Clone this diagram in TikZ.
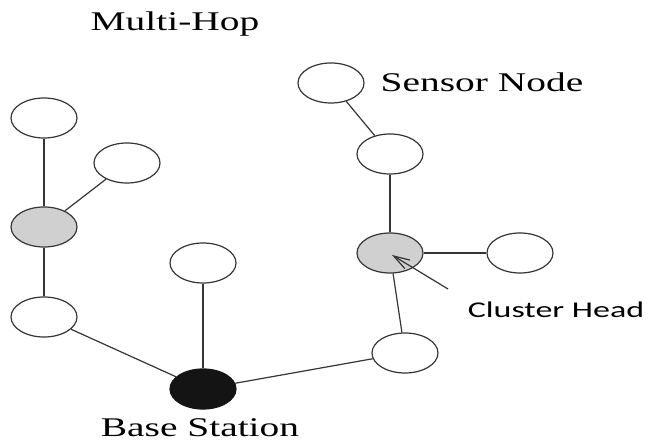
\documentclass[tikz,border=0pt]{standalone}
\usepackage{fontspec}
\setmainfont{Liberation Serif}
\newfontfamily\cali{Carlito}
\usetikzlibrary{shapes.geometric,arrows.meta}
\definecolor{edgec}{HTML}{353535}
\definecolor{chfill}{HTML}{D0D0D0}
\definecolor{bsfill}{HTML}{141414}
\tikzset{
  sensor/.style={ellipse,draw=edgec,line width=1.2pt,fill=white,minimum width=66pt,minimum height=40pt,inner sep=0pt},
  chead/.style={sensor,fill=chfill},
  base/.style={sensor,fill=bsfill,draw=bsfill},
  link/.style={draw=edgec,line width=1.2pt},
  serlabel/.style={font=\rmfamily\fontsize{27}{30}\selectfont,xscale=1.46,anchor=base,text=black},
  callabel/.style={font=\cali\fontsize{22.5}{26}\selectfont,xscale=1.51,anchor=base,text=black}
}
\begin{document}
\begin{tikzpicture}[x=1pt,y=-1pt]
\useasboundingbox (0,0) rectangle (649,441);
% nodes
\node[sensor] (a) at (44,118) {};
\node[sensor] (b) at (127,163) {};
\node[chead]  (c) at (44,227) {};
\node[sensor] (d) at (44,317) {};
\node[sensor] (e) at (203,263) {};
\node[base]   (bs) at (203,389) {};
\node[sensor] (f) at (331,83) {};
\node[sensor] (g) at (390,154) {};
\node[chead]  (h) at (390,253) {};
\node[sensor] (i) at (520,253) {};
\node[sensor] (j) at (405,353) {};
% links
\draw[link] (a) -- (c);
\draw[link] (b) -- (c);
\draw[link] (c) -- (d);
\draw[link] (d) -- (bs);
\draw[link] (e) -- (bs);
\draw[link] (bs) -- (j);
\draw[link] (j) -- (h);
\draw[link] (h) -- (g);
\draw[link] (g) -- (f);
\draw[link] (h) -- (i);
% labels
\node[serlabel] (t1) at (175,31) {Multi-Hop};
\node[serlabel] (t2) at (482,92) {Sensor Node};
\node[serlabel] (t3) at (200,436) {Base Station};
\node[callabel] (t4) at (556,317) {Cluster Head};
% arrow
\coordinate (arrstart) at (448,289);
\coordinate (arrtip) at (392,255);
\draw[link,-{Straight Barb[length=16pt,width=10pt]}] (arrstart) -- (arrtip);
\end{tikzpicture}
\end{document}
